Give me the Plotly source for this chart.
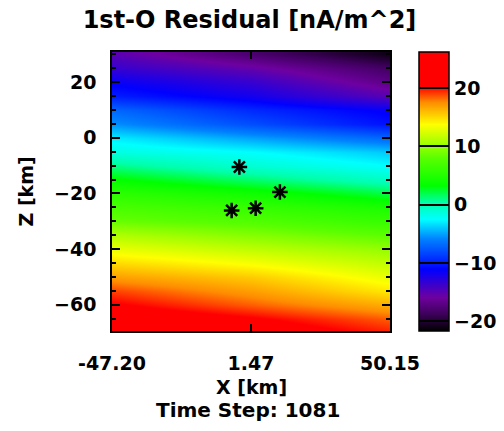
import plotly.graph_objects as go

# ---- data ----
x_cols = [-47.20, 1.47, 50.15]
z_rows = [30, 25, 20, 15, 10, 5, 0, -5, -10, -15, -20, -25, -30, -35, -40,
          -45, -50, -55, -60, -65, -69]
left_vals = [-15, -13.5, -11.5, -10, -7, -5.5, -3, -1.5, 1, 3.5, 5.5, 7, 8.5,
             11, 13, 15, 17, 19, 20.5, 22, 23]
mid_vals = [-18, -15.5, -13.5, -12, -9.5, -8, -5, -2.5, -1, 1.5, 4, 6, 7.5,
            9.5, 11.5, 13.5, 15.5, 17, 18.5, 20.5, 21.5]
right_vals = [-21, -18.5, -17, -15, -11.5, -10.5, -7, -4, -2.5, -0.5, 2, 4.5,
              6, 8, 10, 11.5, 13, 14.5, 16.5, 18.5, 19.5]

star_x = [-2.6, 11.6, -5.3, 3.1]
star_z = [-10.5, -19.5, -26.1, -25.3]

x_tick_vals = [-47.20, 1.47, 50.15]
x_tick_text = ["-47.20", "1.47", "50.15"]
y_tick_vals = [20, 0, -20, -40, -60]
cb_tick_vals = [20, 10, 0, -10, -20]

grid = [[l, m, r] for l, m, r in zip(left_vals, mid_vals, right_vals)]

colorscale = [
    [0.0, "rgb(0,0,0)"],
    [0.06, "rgb(60,0,90)"],
    [0.12, "rgb(110,0,160)"],
    [0.22, "rgb(0,0,255)"],
    [0.33, "rgb(0,130,255)"],
    [0.40, "rgb(0,255,255)"],
    [0.46, "rgb(0,255,170)"],
    [0.52, "rgb(0,255,0)"],
    [0.62, "rgb(90,255,0)"],
    [0.74, "rgb(255,255,0)"],
    [0.82, "rgb(255,140,0)"],
    [0.875, "rgb(255,0,0)"],
    [1.0, "rgb(255,0,0)"],
]

FONT = "DejaVu Sans"
BOLD = dict(family=FONT, size=19, color="black", weight="bold")

fig = go.Figure()
fig.add_trace(go.Heatmap(
    x=x_cols, y=z_rows, z=grid, zsmooth="best",
    colorscale=colorscale, zmin=-21.7, zmax=26.2,
    colorbar=dict(
        x=(419 - 112) / 278, xanchor="left", xpad=0,
        y=0.5, yanchor="middle", len=1.0, lenmode="fraction", ypad=0,
        thickness=30, thicknessmode="pixels",
        outlinecolor="black", outlinewidth=1.5,
        tickvals=cb_tick_vals, ticks="inside", ticklen=30,
        tickcolor="black", tickwidth=1.5,
        tickfont=BOLD,
    ),
    showscale=True,
))
fig.add_trace(go.Scatter(
    x=star_x, y=star_z, mode="markers",
    marker=dict(symbol="asterisk-open", size=13, color="black",
                line=dict(color="black", width=2.5)),
    showlegend=False,
))

fig.update_layout(
    width=504, height=431,
    margin=dict(l=112, r=114, t=52, b=100, autoexpand=False),
    paper_bgcolor="white", plot_bgcolor="white",
    title=dict(text="1st-O Residual [nA/m^2]", x=0.495, xanchor="center",
               y=1 - 20 / 431, yanchor="middle", yref="container",
               font=dict(family=FONT, size=24, color="black", weight="bold")),
    showlegend=False,
)
fig.update_xaxes(
    range=[-47.20, 50.15], tickvals=x_tick_vals, ticktext=x_tick_text,
    ticks="inside", ticklen=7, tickcolor="black", tickwidth=1.5,
    showline=True, linecolor="black", linewidth=1.5, mirror="ticks",
    showgrid=False, zeroline=False, ticklabelstandoff=14,
    tickfont=BOLD,
)
fig.update_yaxes(
    range=[-69.4, 30.8], tickvals=y_tick_vals,
    ticks="inside", ticklen=8, tickcolor="black", tickwidth=1.5,
    minor=dict(dtick=5, tick0=0, ticks="inside", ticklen=4,
               tickcolor="black", showgrid=False),
    showline=True, linecolor="black", linewidth=1.5, mirror="ticks",
    showgrid=False, zeroline=False, ticklabelstandoff=10,
    tickfont=BOLD,
)
fig.add_annotation(text="X [km]", xref="paper", yref="paper",
                   x=0.5, y=(331 - 387) / 279, yanchor="middle",
                   showarrow=False, font=BOLD)
fig.add_annotation(text="Time Step: 1081", xref="paper", yref="paper",
                   x=0.49, y=(331 - 410) / 279, yanchor="middle",
                   showarrow=False,
                   font=dict(family=FONT, size=20, color="black", weight="bold"))
fig.add_annotation(text="Z [km]", xref="paper", yref="paper",
                   x=(25 - 112) / 278, y=0.5, xanchor="center",
                   yanchor="middle", textangle=-90, showarrow=False,
                   font=BOLD)

fig.write_html("out.html")
